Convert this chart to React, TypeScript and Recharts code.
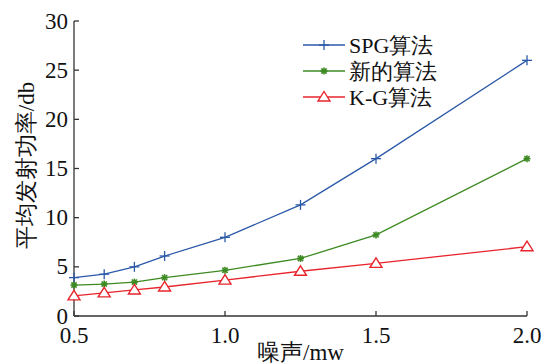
import { LineChart, Line, XAxis, YAxis, Legend } from 'recharts'

const noise = [0.5, 0.6, 0.7, 0.8, 1.0, 1.25, 1.5, 2.0]
const spg = [3.9, 4.25, 5.0, 6.1, 8.0, 11.3, 16.0, 26.0]
const newAlg = [3.15, 3.25, 3.45, 3.9, 4.65, 5.85, 8.25, 16.0]
const kg = [2.05, 2.35, 2.65, 2.95, 3.65, 4.55, 5.35, 7.05]

const xTicks = [0.5, 1.0, 1.5, 2.0]
const yTicks = [0, 5, 10, 15, 20, 25, 30]

const seriesNames = ['SPG算法', '新的算法', 'K-G算法']
const BLUE = '#2b59a8'
const GREEN = '#3d8a22'
const RED = '#e8242c'
const FONT = 'Liberation Serif, Times New Roman, DejaVu Serif, serif'
const AXIS = '#333'

const data = noise.map((x, i) => ({ x, spg: spg[i], newAlg: newAlg[i], kg: kg[i] }))

function Plus({ cx, cy }: { cx: number; cy: number }) {
  return (
    <g stroke={BLUE} strokeWidth={1.3}>
      <line x1={cx - 5} y1={cy} x2={cx + 5} y2={cy} />
      <line x1={cx} y1={cy - 5} x2={cx} y2={cy + 5} />
    </g>
  )
}

function Star({ cx, cy }: { cx: number; cy: number }) {
  return (
    <g stroke={GREEN} strokeWidth={1.6}>
      <line x1={cx - 3.5} y1={cy} x2={cx + 3.5} y2={cy} />
      <line x1={cx} y1={cy - 3.5} x2={cx} y2={cy + 3.5} />
      <line x1={cx - 2.6} y1={cy - 2.6} x2={cx + 2.6} y2={cy + 2.6} />
      <line x1={cx - 2.6} y1={cy + 2.6} x2={cx + 2.6} y2={cy - 2.6} />
    </g>
  )
}

function Tri({ cx, cy }: { cx: number; cy: number }) {
  return (
    <polygon
      points={`${cx},${cy - 5.5} ${cx + 6},${cy + 4} ${cx - 6},${cy + 4}`}
      fill="#fff"
      stroke={RED}
      strokeWidth={1.4}
    />
  )
}

const markers = [Plus, Star, Tri]
const colors = [BLUE, GREEN, RED]

function LegendBox() {
  return (
    <svg width={170} height={80} style={{ display: 'block' }}>
      {seriesNames.map((name, i) => {
        const M = markers[i]
        const y = 12 + i * 26
        return (
          <g key={name}>
            <line x1={3} y1={y} x2={45} y2={y} stroke={colors[i]} strokeWidth={1.3} />
            <M cx={24} cy={y} />
            <text x={49} y={y} dominantBaseline="central" style={{ fontFamily: FONT }} fontSize={22} fill="#111">
              {name}
            </text>
          </g>
        )
      })}
    </svg>
  )
}

function XTick({ x, y, payload }: any) {
  return (
    <text x={x} y={y} dy="0.72em" textAnchor="middle" style={{ fontFamily: FONT }} fontSize={23} fill="#111">
      {Number(payload.value).toFixed(1)}
    </text>
  )
}

function YTick({ x, y, payload }: any) {
  return (
    <text x={x} y={y} dominantBaseline="central" textAnchor="end" style={{ fontFamily: FONT }} fontSize={23} fill="#111">
      {payload.value}
    </text>
  )
}

export default function App() {
  return (
    <div style={{ position: 'absolute', left: 0, top: 0, background: '#fff', fontFamily: FONT }}>
      <LineChart width={548} height={364} data={data} margin={{ top: 21, right: 21, bottom: 0, left: 0 }}>
        <XAxis
          dataKey="x"
          type="number"
          domain={[0.5, 2]}
          ticks={xTicks}
          height={48}
          tickSize={-5}
          tickMargin={15}
          stroke={AXIS}
          strokeWidth={1.3}
          tick={XTick}
          label={{
            content: ({ viewBox }: any) => (
              <text
                x={viewBox.x + viewBox.width / 2}
                y={352}
                textAnchor="middle"
                dominantBaseline="central"
                style={{ fontFamily: FONT }}
                fontSize={23}
                fill="#111"
              >
                噪声/mw
              </text>
            ),
          }}
        />
        <XAxis
          xAxisId="top"
          orientation="top"
          dataKey="x"
          type="number"
          domain={[0.5, 2]}
          ticks={xTicks}
          height={0}
          tickSize={-5}
          tickFormatter={() => ''}
          stroke={AXIS}
          strokeWidth={1.3}
        />
        <YAxis
          type="number"
          domain={[0, 30]}
          ticks={yTicks}
          width={74}
          tickSize={-5}
          tickMargin={11}
          stroke={AXIS}
          strokeWidth={1.3}
          tick={YTick}
          label={{
            content: ({ viewBox }: any) => (
              <text
                transform={`translate(26, ${viewBox.y + viewBox.height / 2 - 3}) rotate(-90)`}
                textAnchor="middle"
                dominantBaseline="central"
                style={{ fontFamily: FONT }}
                fontSize={23}
                fill="#111"
              >
                平均发射功率/db
              </text>
            ),
          }}
        />
        <YAxis
          yAxisId="right"
          orientation="right"
          type="number"
          domain={[0, 30]}
          ticks={yTicks}
          width={0}
          tickSize={-5}
          tickFormatter={() => ''}
          stroke={AXIS}
          strokeWidth={1.3}
        />
        <Legend
          layout="horizontal"
          verticalAlign="middle"
          align="center"
          wrapperStyle={{ left: 300, top: 33, width: 170 }}
          content={() => <LegendBox />}
        />
        <Line dataKey="spg" stroke={BLUE} strokeWidth={1.3} dot={(p: any) => <Plus key={p.index} cx={p.cx} cy={p.cy} />} isAnimationActive={false} />
        <Line dataKey="newAlg" stroke={GREEN} strokeWidth={1.3} dot={(p: any) => <Star key={p.index} cx={p.cx} cy={p.cy} />} isAnimationActive={false} />
        <Line dataKey="kg" stroke={RED} strokeWidth={1.3} dot={(p: any) => <Tri key={p.index} cx={p.cx} cy={p.cy} />} isAnimationActive={false} />
      </LineChart>
    </div>
  )
}
